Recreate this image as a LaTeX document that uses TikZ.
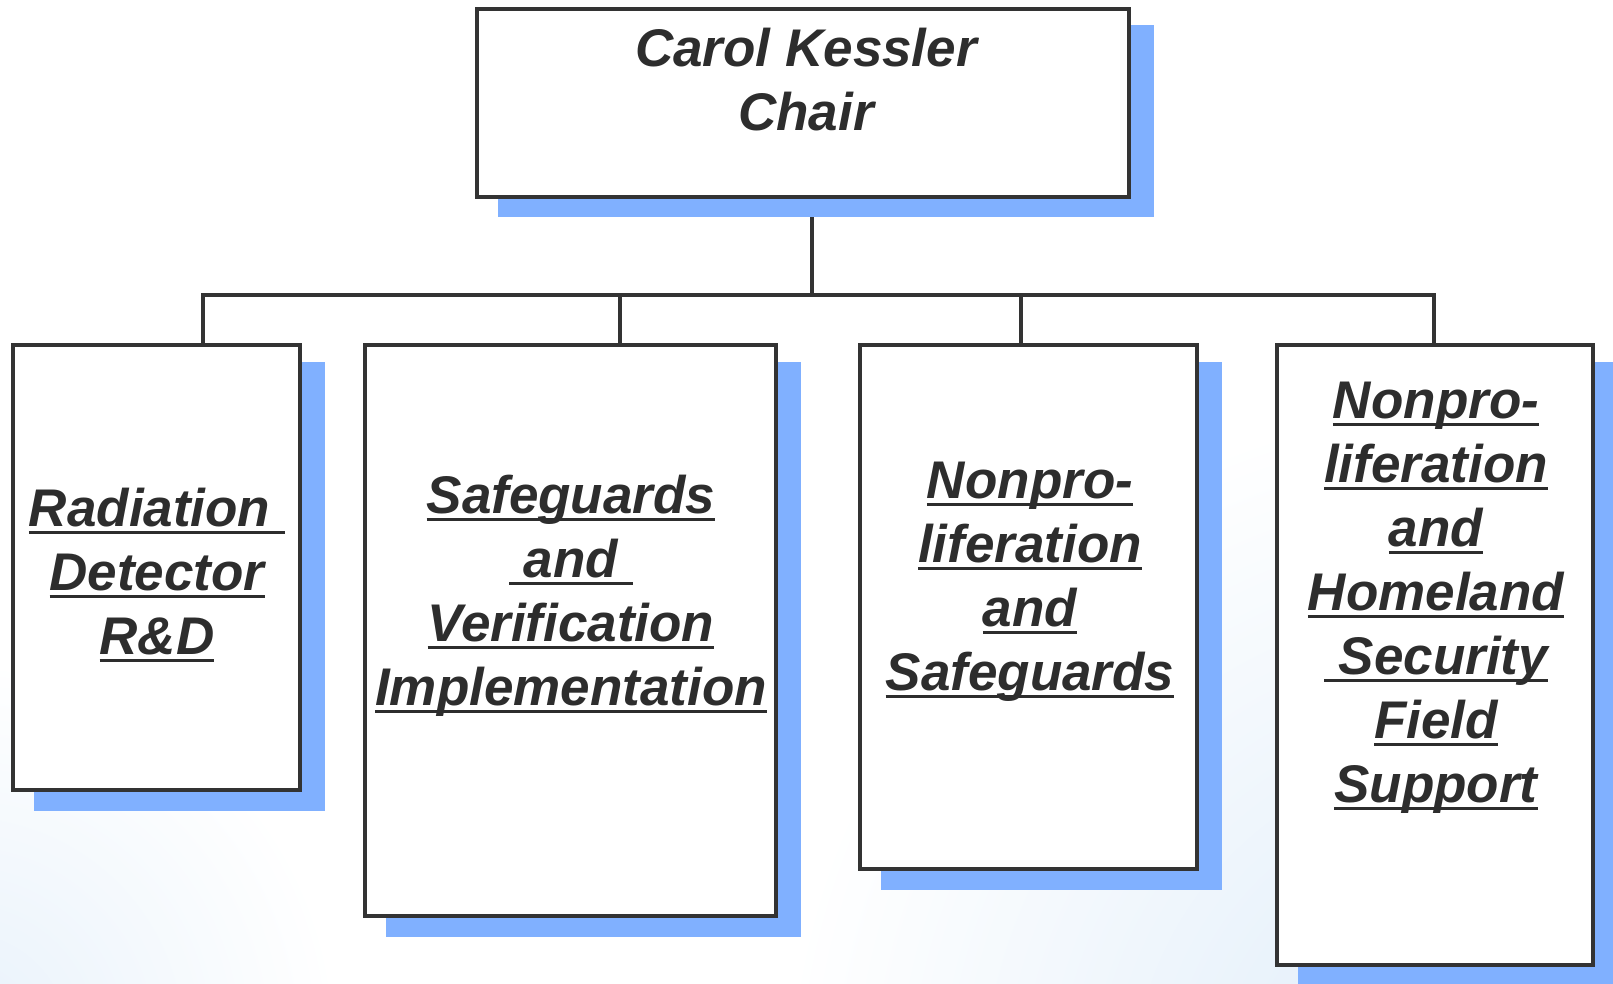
\documentclass[tikz,border=0pt]{standalone}
\usepackage{fontspec}
\setmainfont{Liberation Sans}
\definecolor{shadowc}{RGB}{128,176,255}
\definecolor{linec}{RGB}{51,51,51}
\definecolor{txtc}{RGB}{45,45,45}
\definecolor{bgc}{RGB}{222,236,249}
\newcommand\ulin[1]{\setbox0=\hbox{#1}\rlap{\color{txtc}\rule[-7.5pt]{\wd0}{3.3pt}}\box0}
\pgfdeclarelayer{back}
\pgfdeclarelayer{links}
\pgfdeclarelayer{shadows}
\pgfsetlayers{back,links,shadows,main}
\tikzset{
  orgbox/.style={draw=linec, line width=4pt, fill=white, inner sep=0pt, rectangle},
  orgtext/.style={inner sep=0pt, anchor=north, align=center, text=txtc,
    font=\fontsize{53}{64}\selectfont\bfseries\itshape},
  link/.style={draw=linec, line width=3.5pt},
  bus/.style={draw=linec, line width=4.5pt, line cap=rect}
}
\begin{document}
\begin{tikzpicture}[x=1pt,y=-1pt]
\useasboundingbox (0,0) rectangle (1613,984);
% boxes
\node[orgbox, minimum width=652pt, minimum height=188pt] (top) at (803,103) {};
\node[orgbox, minimum width=287pt, minimum height=445pt] (b1) at (156.5,567.5) {};
\node[orgbox, minimum width=411pt, minimum height=571pt] (b2) at (570.5,630.5) {};
\node[orgbox, minimum width=337pt, minimum height=524pt] (b3) at (1028.5,607) {};
\node[orgbox, minimum width=316pt, minimum height=620pt] (b4) at (1435,655) {};
% texts
\node[orgtext] (tt) at (806,28) {Carol Kessler\\Chair};
\node[orgtext] (t1) at (157,488) {\ulin{Radiation\ }\\\ulin{Detector}\\\ulin{R\&D}};
\node[orgtext] (t2) at (571,475) {\ulin{Safeguards}\\\ulin{\ and\ }\\\ulin{Verification}\\\ulin{Implementation}};
\node[orgtext] (t3) at (1030,462) {\ulin{Nonpro-}\\\ulin{liferation}\\\ulin{and}\\\ulin{Safeguards}};
\node[orgtext] (t4) at (1436,382) {\ulin{Nonpro-}\\\ulin{liferation}\\\ulin{and}\\\ulin{Homeland}\\\ulin{\ Security}\\\ulin{Field}\\\ulin{Support}};
% shadows
\begin{pgfonlayer}{shadows}
\begin{scope}
\clip (0,0) rectangle (1613,984);
\fill[shadowc] ([shift={(23,18)}]top.north west) rectangle ([shift={(23,18)}]top.south east);
\fill[shadowc] ([shift={(23,19)}]b1.north west) rectangle ([shift={(23,19)}]b1.south east);
\fill[shadowc] ([shift={(23,19)}]b2.north west) rectangle ([shift={(23,19)}]b2.south east);
\fill[shadowc] ([shift={(23,19)}]b3.north west) rectangle ([shift={(23,19)}]b3.south east);
\fill[shadowc] ([shift={(23,19)}]b4.north west) rectangle ([shift={(23,19)}]b4.south east);
\end{scope}
\end{pgfonlayer}
% connectors
\begin{pgfonlayer}{links}
\coordinate (jn) at (812,295);
\coordinate (j1) at (203,295);
\coordinate (j2) at (620,295);
\coordinate (j3) at (1021,295);
\coordinate (j4) at (1434,295);
\draw[link] (top.south -| jn) -- (jn);
\draw[bus] (j1) -- (j4);
\draw[link] (j1) -- (j1 |- b1.north);
\draw[link] (j2) -- (j2 |- b2.north);
\draw[link] (j3) -- (j3 |- b3.north);
\draw[link] (j4) -- (j4 |- b4.north);
\end{pgfonlayer}
% background
\begin{pgfonlayer}{back}
\fill[white] (0,0) rectangle (1613,984);
\begin{scope}
\clip (0,0) rectangle (1613,984);
\shade[inner color=bgc, outer color=white] (1480,1100) circle (700);
\shade[inner color=bgc!70, outer color=white] (-40,1040) circle (380);
\end{scope}
\end{pgfonlayer}
\end{tikzpicture}
\end{document}
